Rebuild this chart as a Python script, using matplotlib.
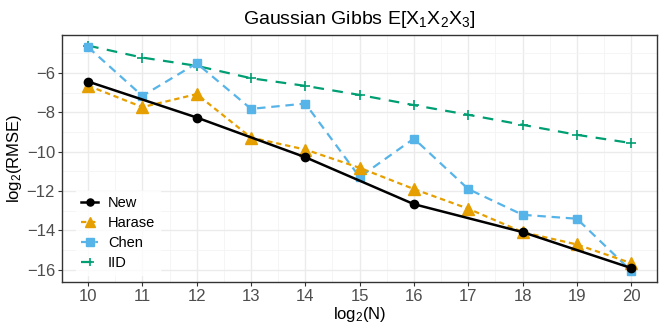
import matplotlib
matplotlib.use("Agg")
import matplotlib.pyplot as plt
from matplotlib.ticker import MultipleLocator

plt.rcParams['font.family'] = ['Liberation Sans', 'DejaVu Sans']
plt.rcParams['mathtext.fontset'] = 'custom'
plt.rcParams['mathtext.rm'] = 'Liberation Sans'
plt.rcParams['mathtext.it'] = 'Liberation Sans'

x_all = [10, 11, 12, 13, 14, 15, 16, 17, 18, 19, 20]
x_new = [10, 12, 14, 16, 18, 20]
new_vals = [-6.43, -8.26, -10.28, -12.67, -14.09, -15.92]
harase_vals = [-6.64, -7.73, -7.07, -9.28, -9.89, -10.82, -11.90, -12.90, -14.09, -14.72, -15.67]
chen_vals = [-4.68, -7.16, -5.50, -7.82, -7.55, -11.29, -9.33, -11.90, -13.21, -13.41, -16.06]
iid_vals = [-4.60, -5.21, -5.63, -6.26, -6.65, -7.11, -7.63, -8.12, -8.63, -9.14, -9.56]
x_ticks = list(range(10, 21))
y_ticks = [-16, -14, -12, -10, -8, -6]

fig = plt.figure(figsize=(6.64, 3.32), dpi=100)
ax = fig.add_axes([0.0934, 0.1506, 0.8956, 0.744])

lw = 1.6
ax.plot(x_all, iid_vals, color='#009E73', lw=lw, dashes=(4.8, 3.8), marker='+', ms=7.5, mew=1.2, label='IID', zorder=3)
ax.plot(x_all, chen_vals, color='#56B4E9', lw=lw, dashes=(3.8, 2.6), marker='s', ms=6, label='Chen', zorder=4)
ax.plot(x_all, harase_vals, color='#E69F00', lw=lw, dashes=(2.4, 1.7), marker='^', ms=8, label='Harase', zorder=5)
ax.plot(x_new, new_vals, color='black', lw=1.8, marker='o', ms=6, label='New', zorder=6)

ax.set_xlim(9.52, 20.47)
ax.set_ylim(-16.63, -4.06)
ax.set_xticks(x_ticks)
ax.set_yticks(y_ticks)
ax.set_yticklabels(['\u221216', '\u221214', '\u221212', '\u221210', '\u22128', '\u22126'])
ax.xaxis.set_minor_locator(MultipleLocator(0.5))
ax.yaxis.set_minor_locator(MultipleLocator(1))
ax.grid(which='major', color='#EBEBEB', lw=1.0, zorder=0)
ax.grid(which='minor', color='#F4F4F4', lw=0.6, zorder=0)
ax.set_axisbelow(True)
ax.tick_params(which='minor', length=0)
ax.tick_params(which='major', length=3, color='#333333', labelsize=12, labelcolor='#4D4D4D', width=0.8, pad=2)
for s in ax.spines.values():
    s.set_color('#333333')
    s.set_linewidth(1.0)

ax.set_xlabel('log$_2$(N)', fontsize=12, labelpad=1)
ax.set_ylabel('log$_2$(RMSE)', fontsize=12, labelpad=2)
ax.set_title('Gaussian Gibbs E[X$_1$X$_2$X$_3$]', fontsize=14, pad=8)

h, l = ax.get_legend_handles_labels()
order = [3, 2, 1, 0]
leg = ax.legend([h[i] for i in order], [l[i] for i in order], loc='lower left',
                bbox_to_anchor=(0.012, 0.0), frameon=True, fontsize=10.5,
                handlelength=1.16, labelspacing=0.41, borderpad=0.32, handletextpad=0.68,
                markerscale=0.85)
leg.get_frame().set_facecolor('white')
leg.get_frame().set_edgecolor('white')
leg.get_frame().set_boxstyle('square', pad=0)
leg.set_zorder(10)

fig.savefig('out.png', dpi=100)
